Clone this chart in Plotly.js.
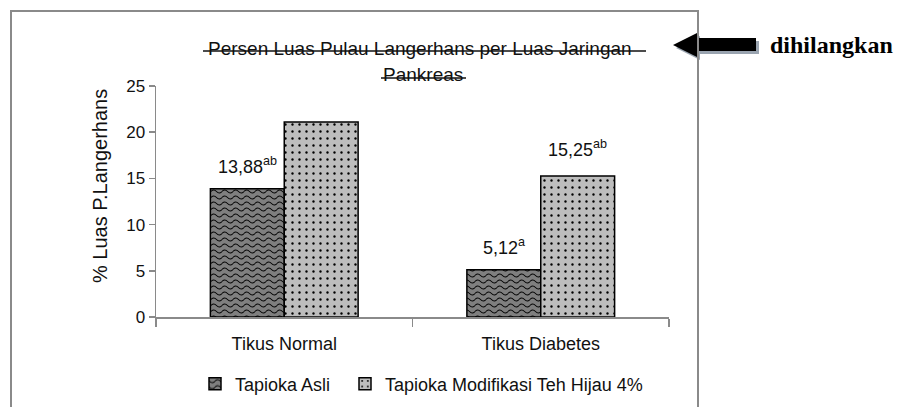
<!DOCTYPE html>
<html>
<head>
<meta charset="utf-8">
<script src="https://cdn.plot.ly/plotly-3.0.1.min.js"></script>
<style>html,body{margin:0;padding:0;background:#fff;}#chart{width:900px;height:407px;}</style>
</head>
<body>
<div id="chart"></div>
<script>
// ---- data ----
var categories = ["Tikus Normal", "Tikus Diabetes"];
var seriesNames = ["Tapioka Asli", "Tapioka Modifikasi Teh Hijau 4%"];
var tapiokaAsli = [13.88, 5.12];
var tapiokaModifikasi = [21.1, 15.25];
var labelsAsli = ["13,88<sup>ab</sup>", "5,12<sup>a</sup>"];
var labelsModifikasi = ["", "15,25<sup>ab</sup>"];
var yTicks = [0, 5, 10, 15, 20, 25];
var titleLine1 = "Persen Luas Pulau Langerhans per Luas Jaringan";
var titleLine2 = "Pankreas";
var yTitle = "% Luas P.Langerhans";
var sideNote = "dihilangkan";

// ---- layout helpers (pixel -> paper / container) ----
var L = 156, R = 231, T = 86, B = 90, W = 900, H = 407;
var PW = W - L - R, PH = H - T - B;
function px(x) { return (x - L) / PW; }
function py(y) { return (H - B - y) / PH; }
function cx(x) { return x / W; }
function cy(y) { return (H - y) / H; }

var FONT = "Liberation Sans, Arial, sans-serif";
var bargap = 0.424;
var barW = (1 - bargap) / 2;

var traces = [
  {
    type: "bar", name: seriesNames[0], x: categories, y: tapiokaAsli, legend: "legend",
    marker: { color: "#7f7f7f", line: { color: "#000", width: 1.5 } },
    hoverinfo: "none"
  },
  {
    type: "bar", name: seriesNames[1], x: categories, y: tapiokaModifikasi, legend: "legend2",
    marker: {
      color: "#bdbdbd", line: { color: "#000", width: 1.5 },
      pattern: { shape: ".", bgcolor: "#bdbdbd", fgcolor: "#000", size: 7, solidity: 0.09 }
    },
    hoverinfo: "none"
  }
];

var annotations = [];
categories.forEach(function (c, i) {
  if (labelsAsli[i]) annotations.push({
    xref: "x", yref: "y", x: i - barW / 2, y: tapiokaAsli[i], text: labelsAsli[i],
    showarrow: false, yanchor: "bottom", yshift: 10, font: { family: FONT, size: 18, color: "#111" }
  });
  if (labelsModifikasi[i]) annotations.push({
    xref: "x", yref: "y", x: i + barW / 2, y: tapiokaModifikasi[i], text: labelsModifikasi[i],
    showarrow: false, yanchor: "bottom", yshift: 14, font: { family: FONT, size: 18, color: "#111" }
  });
});
annotations.push(
  { xref: "paper", yref: "paper", x: px(420), y: py(49), text: titleLine1, showarrow: false,
    xanchor: "center", yanchor: "middle", font: { family: FONT, size: 19, color: "#111" } },
  { xref: "paper", yref: "paper", x: px(423), y: py(75), text: titleLine2, showarrow: false,
    xanchor: "center", yanchor: "middle", font: { family: FONT, size: 19, color: "#111" } },
  { xref: "paper", yref: "paper", x: px(100), y: py(186), text: yTitle, showarrow: false, textangle: -90,
    xanchor: "center", yanchor: "middle", font: { family: FONT, size: 20, color: "#111" } },
  { xref: "paper", yref: "paper", x: px(831), y: py(45), text: "<b>" + sideNote + "</b>", showarrow: false,
    xanchor: "center", yanchor: "middle", font: { family: "Liberation Serif, Times New Roman, serif", size: 24, color: "#000" } }
);

function arrowPath(dx, dy) {
  var pts = [[673,45],[697,33],[697,38],[756,38],[756,51],[697,51],[697,57]];
  return "M" + pts.map(function (p) { return px(p[0] + dx) + "," + py(p[1] + dy); }).join("L") + "Z";
}

var shapes = [
  // title strike-through lines
  { type: "line", xref: "paper", yref: "paper", x0: px(203), x1: px(646), y0: py(51), y1: py(51), line: { color: "#111", width: 1.5 } },
  { type: "line", xref: "paper", yref: "paper", x0: px(381), x1: px(466), y0: py(78), y1: py(78), line: { color: "#111", width: 1.5 } },
  // arrow shadow + arrow
  { type: "path", xref: "paper", yref: "paper", path: arrowPath(3, 3), fillcolor: "#9aa4b0", line: { width: 0 } },
  { type: "path", xref: "paper", yref: "paper", path: arrowPath(0, 0), fillcolor: "#000", line: { width: 0 } },
  // chart border
  { type: "rect", xref: "paper", yref: "paper", x0: px(11), x1: px(698), y0: py(11), y1: py(440), line: { color: "#8a8a8a", width: 2 }, fillcolor: "rgba(0,0,0,0)" }
];

var legendFont = { family: FONT, size: 18, color: "#111" };
var layout = {
  width: W, height: H,
  margin: { l: L, r: R, t: T, b: B, pad: 0, autoexpand: false },
  paper_bgcolor: "#fff", plot_bgcolor: "#fff",
  barmode: "group", bargap: bargap, bargroupgap: 0,
  font: { family: FONT, size: 17, color: "#111" },
  xaxis: {
    type: "category", showline: true, linecolor: "#8a8a8a", linewidth: 1.5, automargin: false,
    ticks: "outside", tickson: "boundaries", ticklen: 8, tickcolor: "#8a8a8a", tickwidth: 1.5,
    ticklabelstandoff: 10,
    showgrid: false, zeroline: false, tickfont: { family: FONT, size: 18, color: "#111" }
  },
  yaxis: {
    range: [0, 25], tickvals: yTicks, showline: true, linecolor: "#8a8a8a", linewidth: 1.5, automargin: false,
    ticks: "outside", ticklen: 6, tickcolor: "#8a8a8a", tickwidth: 1.5,
    showgrid: false, zeroline: false, tickfont: { family: FONT, size: 17, color: "#111" }
  },
  showlegend: true,
  legend: {
    orientation: "h", xref: "container", yref: "container", x: cx(195), xanchor: "left", y: cy(384), yanchor: "middle",
    font: legendFont, bgcolor: "rgba(0,0,0,0)"
  },
  legend2: {
    orientation: "h", xref: "container", yref: "container", x: cx(345), xanchor: "left", y: cy(384), yanchor: "middle",
    font: legendFont, bgcolor: "rgba(0,0,0,0)"
  },
  annotations: annotations,
  shapes: shapes
};

Plotly.newPlot("chart", traces, layout, { staticPlot: true, displayModeBar: false }).then(function (gd) {
  // custom wave pattern for the "Tapioka Asli" series
  var svgNS = "http://www.w3.org/2000/svg";
  var defs = gd.querySelector(".main-svg defs");
  var pat = document.createElementNS(svgNS, "pattern");
  pat.setAttribute("id", "wavePattern");
  pat.setAttribute("patternUnits", "userSpaceOnUse");
  pat.setAttribute("width", "11");
  pat.setAttribute("height", "6");
  var rect = document.createElementNS(svgNS, "rect");
  rect.setAttribute("width", "11"); rect.setAttribute("height", "6"); rect.setAttribute("fill", "#7f7f7f");
  var wave = document.createElementNS(svgNS, "path");
  wave.setAttribute("d", "M0,3.5 Q2.75,0.5 5.5,3.5 T11,3.5");
  wave.setAttribute("stroke", "#000"); wave.setAttribute("stroke-width", "1.1"); wave.setAttribute("fill", "none");
  pat.appendChild(rect); pat.appendChild(wave);
  defs.appendChild(pat);
  var barTraces = gd.querySelectorAll(".barlayer .trace");
  if (barTraces.length) barTraces[0].querySelectorAll("path").forEach(function (p) { p.style.fill = "url(#wavePattern)"; });
  var legTraces = gd.querySelectorAll(".legend .traces");
  legTraces.forEach(function (t) {
    var txt = t.querySelector(".legendtext");
    if (txt && txt.textContent === seriesNames[0]) {
      t.querySelectorAll(".legendpoints path").forEach(function (p) { p.style.fill = "url(#wavePattern)"; });
    }
  });
  // drop empty placeholder text nodes that Plotly leaves behind
  gd.querySelectorAll("text").forEach(function (t) {
    if (!t.textContent.trim()) t.parentNode.removeChild(t);
  });
});
</script>
</body>
</html>
